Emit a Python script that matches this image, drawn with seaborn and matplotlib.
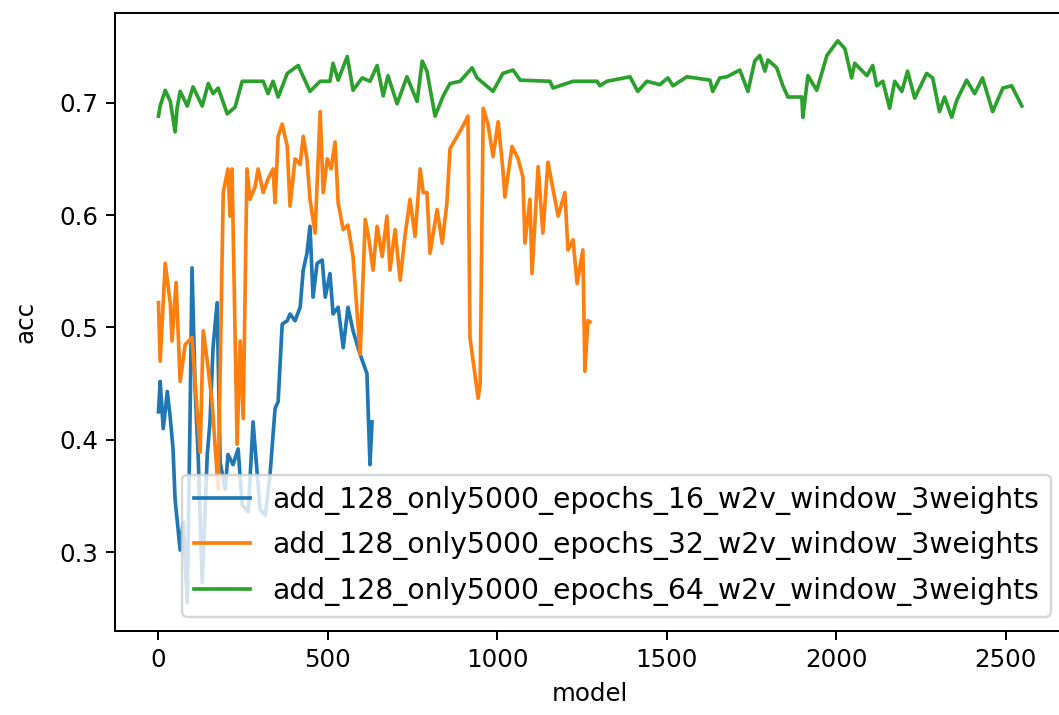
import numpy as np
import pandas as pd
import matplotlib
matplotlib.use("Agg")
import matplotlib.pyplot as plt
import seaborn as sns

# Series names (legend labels)
names = [
    "add_128_only5000_epochs_16_w2v_window_3weights",
    "add_128_only5000_epochs_32_w2v_window_3weights",
    "add_128_only5000_epochs_64_w2v_window_3weights",
]

# epochs 16 (blue)
x16 = [0, 5, 14, 26, 35, 43, 49, 64, 73, 85, 93, 99, 108, 117, 129, 144, 152, 161, 173,
       182, 197, 205, 220, 235, 247, 265, 279, 291, 300, 315, 329, 344, 353, 365, 380,
       388, 403, 418, 427, 438, 447, 456, 468, 483, 492, 506, 515, 530, 545, 559, 574,
       595, 615, 624, 630]
y16 = [0.425, 0.452, 0.410, 0.443, 0.419, 0.392, 0.347, 0.302, 0.327, 0.255, 0.416, 0.553,
       0.446, 0.387, 0.273, 0.387, 0.416, 0.482, 0.522, 0.380, 0.356, 0.387, 0.378, 0.392,
       0.342, 0.336, 0.416, 0.371, 0.338, 0.333, 0.369, 0.428, 0.434, 0.503, 0.506, 0.512,
       0.506, 0.518, 0.551, 0.566, 0.590, 0.527, 0.557, 0.560, 0.527, 0.548, 0.512, 0.518,
       0.482, 0.518, 0.497, 0.476, 0.459, 0.378, 0.416]

# epochs 32 (orange)
x32 = [0, 5, 20, 35, 40, 52, 64, 79, 99, 108, 123, 132, 144, 158, 176, 191, 205, 211, 217,
       232, 241, 250, 261, 270, 285, 294, 309, 323, 338, 344, 353, 365, 380, 388, 403, 418,
       427, 438, 447, 462, 477, 486, 498, 509, 521, 530, 545, 559, 574, 595, 610, 621, 633,
       645, 660, 674, 683, 698, 713, 727, 742, 757, 772, 781, 792, 801, 822, 837, 851, 860,
       881, 898, 913, 919, 943, 949, 958, 972, 987, 1002, 1016, 1022, 1043, 1061, 1075,
       1081, 1096, 1102, 1120, 1134, 1149, 1164, 1179, 1199, 1208, 1223, 1235, 1252, 1258,
       1267, 1273]
y32 = [0.522, 0.470, 0.557, 0.521, 0.488, 0.540, 0.452, 0.485, 0.491, 0.452, 0.389, 0.497,
       0.470, 0.434, 0.356, 0.620, 0.641, 0.599, 0.641, 0.396, 0.488, 0.419, 0.641, 0.614,
       0.625, 0.641, 0.620, 0.632, 0.641, 0.611, 0.670, 0.681, 0.661, 0.608, 0.650, 0.645,
       0.670, 0.650, 0.614, 0.584, 0.692, 0.620, 0.650, 0.641, 0.665, 0.611, 0.587, 0.591,
       0.563, 0.476, 0.596, 0.578, 0.551, 0.590, 0.563, 0.599, 0.551, 0.587, 0.542, 0.581,
       0.614, 0.581, 0.641, 0.620, 0.620, 0.566, 0.605, 0.575, 0.611, 0.659, 0.670, 0.679,
       0.688, 0.491, 0.437, 0.450, 0.695, 0.681, 0.652, 0.683, 0.641, 0.616, 0.661, 0.650,
       0.634, 0.575, 0.614, 0.548, 0.643, 0.584, 0.647, 0.623, 0.599, 0.620, 0.569, 0.578,
       0.539, 0.569, 0.461, 0.506, 0.505]

# epochs 64 (green)
x64 = [0, 5, 20, 35, 49, 55, 64, 85, 102, 129, 147, 161, 176, 203, 226, 247, 309, 323, 338,
       353, 380, 412, 447, 477, 506, 515, 530, 557, 574, 601, 624, 645, 663, 677, 704, 733,
       763, 778, 792, 816, 840, 860, 890, 925, 940, 987, 1016, 1046, 1067, 1155, 1164, 1223,
       1294, 1302, 1323, 1391, 1414, 1441, 1479, 1503, 1518, 1559, 1627, 1635, 1656, 1677,
       1715, 1739, 1759, 1774, 1789, 1798, 1824, 1842, 1857, 1898, 1901, 1916, 1942, 1972,
       2004, 2025, 2045, 2054, 2090, 2107, 2119, 2137, 2157, 2172, 2193, 2210, 2231, 2266,
       2284, 2304, 2319, 2340, 2355, 2384, 2408, 2431, 2461, 2491, 2517, 2532, 2547]
y64 = [0.688, 0.697, 0.711, 0.701, 0.674, 0.695, 0.710, 0.697, 0.714, 0.697, 0.717, 0.708,
       0.713, 0.690, 0.696, 0.719, 0.719, 0.708, 0.719, 0.705, 0.726, 0.733, 0.710, 0.719,
       0.719, 0.735, 0.720, 0.741, 0.711, 0.722, 0.719, 0.733, 0.706, 0.724, 0.699, 0.723,
       0.701, 0.737, 0.728, 0.688, 0.706, 0.717, 0.719, 0.731, 0.722, 0.710, 0.726, 0.729,
       0.720, 0.719, 0.713, 0.719, 0.719, 0.715, 0.719, 0.723, 0.710, 0.719, 0.716, 0.722,
       0.715, 0.723, 0.720, 0.710, 0.722, 0.723, 0.729, 0.710, 0.737, 0.742, 0.728, 0.738,
       0.731, 0.715, 0.705, 0.705, 0.687, 0.724, 0.711, 0.742, 0.755, 0.748, 0.722, 0.735,
       0.724, 0.733, 0.715, 0.719, 0.695, 0.719, 0.710, 0.728, 0.704, 0.726, 0.722, 0.692,
       0.705, 0.687, 0.702, 0.720, 0.708, 0.722, 0.692, 0.713, 0.715, 0.706, 0.697]

fig = plt.figure(figsize=(1059 / 176.5, 715 / 176.5), dpi=176.5)
# axes reaches a little past the right edge, as in the cropped screenshot
ax = fig.add_axes([115.3 / 1059, 84 / 715, 949.7 / 1059, 618.3 / 715])

colors = ["#1f77b4", "#ff7f0e", "#2ca02c"]
for name, xs, ys, c in zip(names, [x16, x32, x64], [y16, y32, y64], colors):
    df = pd.DataFrame({"model": xs, "acc": ys})
    sns.lineplot(data=df, x="model", y="acc", estimator=None, color=c, label=name,
                 linewidth=1.5, ax=ax)

ax.set_xticks([0, 500, 1000, 1500, 2000, 2500])
ax.set_xlabel("model")
ax.set_ylabel("acc", labelpad=9)
ax.legend(loc="lower right", fontsize=11.5, labelspacing=0.58)

fig.savefig("out.png", dpi=176.5)
